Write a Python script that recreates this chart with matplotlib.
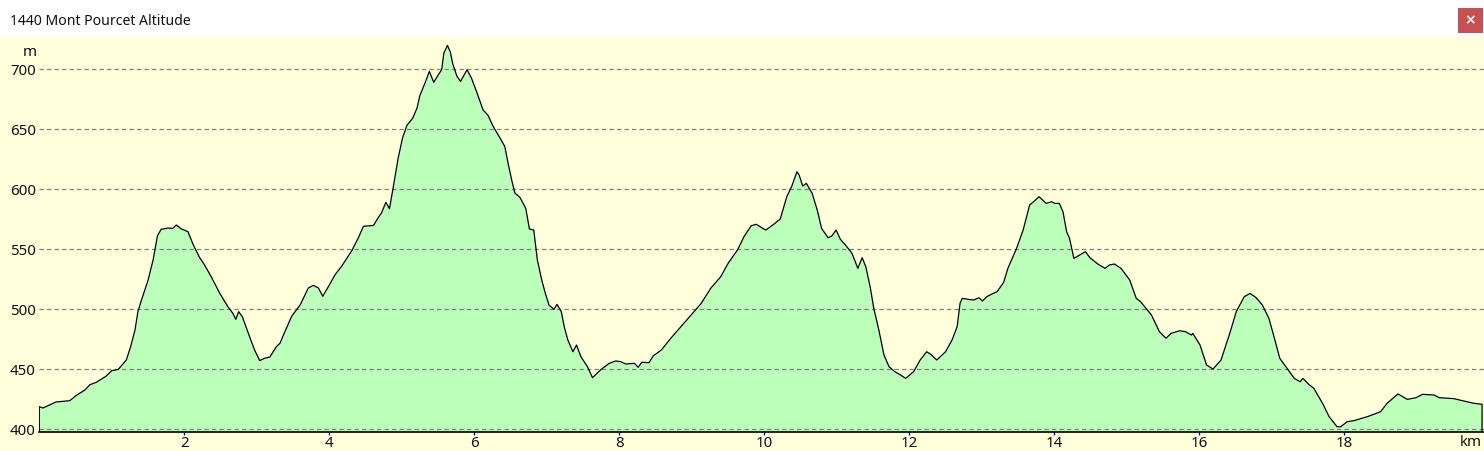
import matplotlib.pyplot as plt
from matplotlib.patches import Rectangle

# profile: distance (km) and altitude (m)
km = [0.0, 0.05, 0.17, 0.23, 0.42, 0.51, 0.63, 0.70, 0.79, 0.92, 1.00, 1.09, 1.20, 1.26, 1.32,
      1.36, 1.41, 1.50, 1.57, 1.63, 1.68, 1.78, 1.84, 1.89, 1.96, 2.05, 2.12, 2.21, 2.28, 2.37,
      2.49, 2.60, 2.67, 2.71, 2.75, 2.80, 2.90, 2.97, 3.04, 3.11, 3.18, 3.27, 3.32, 3.37, 3.48,
      3.60, 3.71, 3.78, 3.85, 3.91, 3.99, 4.08, 4.17, 4.31, 4.40, 4.47, 4.56, 4.61, 4.68, 4.72,
      4.78, 4.83, 4.88, 4.95, 5.01, 5.07, 5.15, 5.21, 5.25, 5.32, 5.38, 5.44, 5.52, 5.55, 5.58,
      5.63, 5.67, 5.70, 5.76, 5.81, 5.90, 5.96, 6.03, 6.12, 6.19, 6.26, 6.35, 6.42, 6.47, 6.52,
      6.56, 6.63, 6.71, 6.76, 6.82, 6.87, 6.93, 6.98, 7.03, 7.10, 7.14, 7.20, 7.24, 7.29, 7.36,
      7.41, 7.47, 7.56, 7.63, 7.75, 7.86, 7.95, 8.02, 8.09, 8.21, 8.26, 8.31, 8.41, 8.47, 8.58,
      8.71, 8.85, 8.99, 9.13, 9.26, 9.40, 9.50, 9.63, 9.72, 9.82, 9.89, 9.98, 10.02, 10.13, 10.22,
      10.31, 10.38, 10.45, 10.48, 10.53, 10.58, 10.66, 10.73, 10.79, 10.88, 10.93, 10.99, 11.05,
      11.12, 11.21, 11.29, 11.35, 11.40, 11.46, 11.51, 11.58, 11.65, 11.72, 11.80, 11.88, 11.95,
      12.06, 12.15, 12.24, 12.29, 12.38, 12.50, 12.59, 12.66, 12.70, 12.73, 12.82, 12.89, 12.96,
      13.01, 13.07, 13.14, 13.21, 13.30, 13.36, 13.48, 13.57, 13.66, 13.73, 13.79, 13.89, 13.96,
      14.01, 14.07, 14.12, 14.17, 14.21, 14.27, 14.35, 14.43, 14.49, 14.60, 14.70, 14.76, 14.83,
      14.92, 15.04, 15.13, 15.19, 15.34, 15.45, 15.54, 15.61, 15.73, 15.81, 15.89, 15.91, 16.01,
      16.10, 16.19, 16.30, 16.42, 16.51, 16.62, 16.70, 16.78, 16.87, 16.96, 17.03, 17.11, 17.21,
      17.31, 17.39, 17.43, 17.51, 17.58, 17.70, 17.79, 17.90, 17.95, 18.04, 18.13, 18.32, 18.50,
      18.59, 18.74, 18.87, 18.99, 19.08, 19.24, 19.31, 19.51, 19.65, 19.79, 19.90]
alt = [418.6, 417.5, 420.8, 422.5, 423.6, 428.0, 432.5, 437.0, 439.0, 444.0, 448.6, 449.7, 457.5,
       468.6, 482.5, 497.8, 507.5, 524.0, 541.0, 561.0, 566.4, 567.5, 567.2, 570.0, 566.7, 564.5,
       554.0, 543.0, 536.7, 527.0, 513.0, 502.0, 496.4, 491.4, 497.8, 493.6, 477.0, 465.8, 457.0,
       459.0, 460.0, 468.6, 471.5, 478.6, 493.9, 503.6, 517.5, 519.7, 517.5, 510.6, 518.9, 528.6,
       535.6, 548.6, 559.2, 568.9, 569.4, 569.7, 576.7, 580.0, 588.9, 583.6, 600.8, 625.8, 642.5,
       653.0, 659.0, 667.5, 678.0, 688.3, 698.0, 689.0, 696.7, 699.4, 713.3, 719.7, 714.0, 705.0,
       694.0, 689.7, 699.4, 692.5, 681.4, 666.0, 661.4, 652.2, 643.0, 635.6, 620.3, 606.4, 596.7,
       593.0, 583.9, 566.7, 565.8, 540.8, 524.2, 513.0, 503.3, 499.7, 503.9, 497.8, 485.3, 474.2,
       464.4, 470.0, 460.3, 452.0, 442.8, 449.7, 454.7, 456.7, 456.1, 454.2, 454.7, 451.4, 455.6,
       455.3, 461.1, 465.8, 475.6, 485.3, 495.0, 504.7, 517.2, 527.0, 538.0, 549.2, 560.3, 569.4,
       570.6, 567.2, 565.8, 570.6, 575.0, 593.6, 602.5, 614.4, 611.7, 602.5, 604.7, 596.4, 582.5,
       567.2, 559.4, 560.8, 565.8, 558.0, 553.3, 546.4, 533.9, 542.8, 535.3, 518.6, 500.6, 482.5,
       461.7, 452.0, 447.8, 445.0, 442.2, 447.8, 457.5, 464.4, 462.5, 457.5, 464.4, 474.2, 485.3,
       504.7, 508.9, 508.0, 507.5, 509.4, 506.7, 510.3, 512.5, 514.4, 522.0, 533.9, 550.6, 565.8,
       586.7, 590.3, 593.6, 588.0, 589.4, 588.0, 588.0, 581.0, 564.4, 558.9, 542.2, 545.0, 547.8,
       542.8, 537.5, 533.9, 536.7, 537.5, 533.9, 524.2, 508.9, 506.1, 495.0, 481.1, 475.6, 479.7,
       481.9, 481.1, 478.3, 479.7, 470.0, 453.3, 450.0, 457.5, 479.7, 497.8, 510.3, 513.0, 509.7,
       503.3, 492.2, 477.0, 458.9, 450.6, 442.2, 439.4, 442.2, 437.2, 433.9, 421.4, 410.3, 401.9,
       401.9, 406.1, 406.9, 410.3, 414.4, 421.4, 429.2, 424.7, 426.1, 428.9, 428.3, 426.1, 425.3,
       423.3, 421.4, 420.6]

x_ticks = [2, 4, 6, 8, 10, 12, 14, 16, 18]
y_ticks = [400, 450, 500, 550, 600, 650, 700]
title = "1440 Mont Pourcet Altitude"

W, H = 1484, 451
bg = "#ffffdc"
fill = "#bbffbb"
font = "Noto Sans"
fs = 10.8

fig = plt.figure(figsize=(W / 100, H / 100), dpi=100, facecolor=bg)

# white title bar with the close button
fig.patches.append(Rectangle((0, (H - 36.5) / H), 1, 36.5 / H, transform=fig.transFigure,
                             facecolor="white", edgecolor="none", zorder=0))
fig.patches.append(Rectangle((1458 / W, (H - 33) / H), 25 / W, 25 / H, transform=fig.transFigure,
                             facecolor="#c75050", edgecolor="none", zorder=1))
fig.text(1470.5 / W, (H - 20.5) / H, "×", color="white", fontsize=10, fontweight="bold",
         ha="center", va="center", family="DejaVu Sans")
fig.text(10 / W, (H - 25) / H, title, fontsize=10.1, family=font, ha="left", va="baseline",
         color="#111111")

ax = fig.add_axes([39.3 / W, (H - 432) / H, 1 - 39.3 / W, (432 - 37) / H])
ax.set_facecolor(bg)
ymin, ymax = 397.5, 726.7
ax.set_xlim(0, (W - 39.3) / 72.5)
ax.set_ylim(ymin, ymax)

ax.fill_between(km, alt, ymin, color=fill, linewidth=0, zorder=1)
ax.plot([km[0]] + km + [km[-1]], [ymin] + alt + [ymin], color="black", linewidth=0.9, zorder=3)

for v in y_ticks:
    ax.axhline(v, color="#808080", linewidth=0.9, linestyle=(0, (3.5, 2.5)), zorder=2)

for s in ["top", "right", "left"]:
    ax.spines[s].set_visible(False)
ax.spines["bottom"].set_color("black")
ax.spines["bottom"].set_linewidth(1.2)
ax.spines["bottom"].set_zorder(4)

ax.set_xticks(x_ticks)
ax.set_xticklabels([str(t) for t in x_ticks], family=font, fontsize=fs, color="#111111")
ax.set_yticks(y_ticks)
ax.set_yticklabels([str(t) for t in y_ticks], family=font, fontsize=fs, color="#111111")
ax.tick_params(axis="x", direction="out", length=2.5, width=1, color="blue", pad=0.5)
ax.tick_params(axis="y", length=0, pad=2.5)

fig.text(36.5 / W, (H - 52) / H, "m", family=font, fontsize=fs, ha="right", va="center",
         color="#111111")
fig.text(1482 / W, (H - 442) / H, "km", family=font, fontsize=fs, ha="right", va="center",
         color="#111111")

plt.savefig("out.png", dpi=100, facecolor=bg)
plt.close()
